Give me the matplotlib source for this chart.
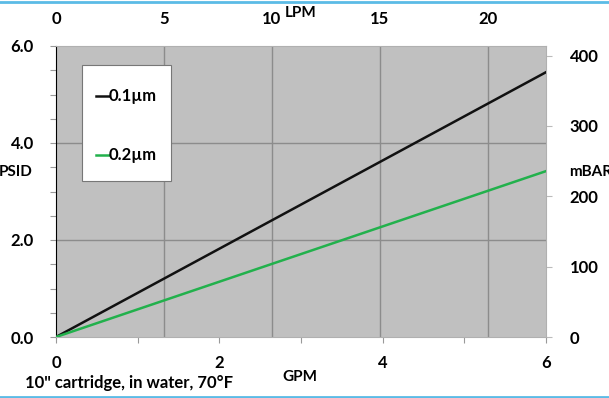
import matplotlib
matplotlib.use("Agg")
import matplotlib.pyplot as plt
from matplotlib.ticker import MultipleLocator, FixedLocator, FormatStrFormatter
from matplotlib.lines import Line2D
from matplotlib.patches import Rectangle

plt.rcParams['font.family'] = ['Lato', 'DejaVu Sans']
plt.rcParams['font.weight'] = 'bold'

gpm = [0, 6]
psid_01 = [0, 5.46]
psid_02 = [0, 3.42]
labels = ['0.1µm', '0.2µm']
colors = ['#111111', '#22b14c']
lpm_ticks = [0, 5, 10, 15, 20]
mbar_ticks = [0, 100, 200, 300, 400]
LPM_PER_GPM = 3.785
MBAR_PER_PSI = 68.95

W, H = 609, 398
FS = 12
fig = plt.figure(figsize=(W/100, H/100), dpi=100)
L, R, T, B = 56, 546, 46, 337
ax = fig.add_axes([L/W, 1-B/H, (R-L)/W, (B-T)/H])
ax.set_facecolor('#c0c0c0')
ax.set_xlim(0, 6)
ax.set_ylim(0, 6)

def axf(px, py):
    return (px - L) / (R - L), (B - py) / (B - T)

gridc = '#8c8c8c'
for t in lpm_ticks[1:]:
    ax.axvline(t / LPM_PER_GPM, color=gridc, lw=1.0, zorder=1)
for t in [2, 4]:
    ax.axhline(t, color=gridc, lw=1.0, zorder=1)

ax.plot(gpm, psid_01, color=colors[0], lw=1.8, zorder=3)
ax.plot(gpm, psid_02, color=colors[1], lw=1.8, zorder=3)

for s in ['top', 'right', 'bottom']:
    ax.spines[s].set_color('#b0b0b0')
ax.spines['left'].set_color('black')

ax.xaxis.set_major_locator(MultipleLocator(2))
ax.xaxis.set_minor_locator(MultipleLocator(1))
ax.yaxis.set_major_locator(MultipleLocator(2))
ax.yaxis.set_minor_locator(MultipleLocator(0.5))
ax.yaxis.set_major_formatter(FormatStrFormatter('%.1f'))
ax.tick_params(which='both', direction='out', color='#999999', length=4, width=0.8,
               labelsize=FS)
ax.tick_params(axis='x', pad=9)
ax.tick_params(axis='y', pad=12)

# top axis: LPM
top = ax.secondary_xaxis('top', functions=(lambda x: x * LPM_PER_GPM, lambda x: x / LPM_PER_GPM))
top.xaxis.set_major_locator(FixedLocator(lpm_ticks))
top.tick_params(length=0, labelsize=FS, pad=14)
top.spines['top'].set_visible(False)

# right axis: mBAR
right = ax.secondary_yaxis('right', functions=(lambda y: y * MBAR_PER_PSI, lambda y: y / MBAR_PER_PSI))
right.yaxis.set_major_locator(FixedLocator(mbar_ticks))
right.tick_params(length=4, color='#bbbbbb', labelsize=FS, pad=13)
right.spines['right'].set_visible(False)

fig.text(301/W, 1-13/H, 'LPM', ha='center', va='center', fontsize=FS-1, fontweight='bold')
fig.text(300/W, 1-377/H, 'GPM', ha='center', va='center', fontsize=FS-1, fontweight='bold')
fig.text(-1/W, 1-172/H, 'PSID', ha='left', va='center', fontsize=FS-1, fontweight='bold')
fig.text(569/W, 1-172/H, 'mBAR', ha='left', va='center', fontsize=FS-1, fontweight='bold')
fig.text(25/W, 1-383/H, '10" cartridge, in water, 70°F', ha='left', va='center',
         fontsize=FS, fontweight='bold')

# legend box (drawn manually to match the wide vertical spacing)
x0, y0 = axf(82, 181)
x1, y1 = axf(171, 65)
ax.add_patch(Rectangle((x0, y0), x1 - x0, y1 - y0, transform=ax.transAxes,
                       facecolor='white', edgecolor='#777777', lw=0.8, zorder=5))
for lab, c, py in zip(labels, colors, [96, 155]):
    hx0, hy = axf(96, py)
    hx1, _ = axf(109, py)
    ax.add_artist(Line2D([hx0, hx1], [hy, hy], color=c, lw=1.8, transform=ax.transAxes, zorder=6))
    ax.text(hx1, hy, lab, transform=ax.transAxes, ha='left', va='center',
            fontsize=FS, fontweight='bold', zorder=6)

# blue screenshot borders
fig.add_artist(Line2D([0, 1], [1-1.5/H, 1-1.5/H], color='#5bbbe6', lw=2, transform=fig.transFigure))
fig.add_artist(Line2D([0, 1], [1-396.5/H, 1-396.5/H], color='#5bbbe6', lw=2, transform=fig.transFigure))

fig.savefig('out.png', dpi=100)
